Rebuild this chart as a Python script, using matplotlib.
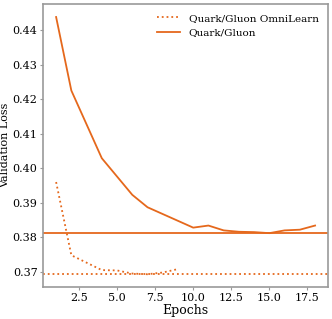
import matplotlib.pyplot as plt

# validation loss per epoch
epochs_omni = [1, 2, 4, 5, 6, 7, 8, 9]
loss_omni = [0.3960, 0.3748, 0.3705, 0.3704, 0.3695, 0.3693, 0.3698, 0.3708]

epochs_base = [1, 2, 4, 6, 7, 10, 11, 12, 13, 14, 15, 16, 17, 18]
loss_base = [0.4438, 0.4225, 0.4029, 0.3923, 0.3887, 0.3828, 0.3834, 0.3820,
             0.3816, 0.3815, 0.3812, 0.3820, 0.3822, 0.3834]

color = '#e5681c'

plt.rcParams['font.family'] = 'DejaVu Serif'
fig = plt.figure(figsize=(3.32, 3.19), dpi=100)
ax = fig.add_axes([0.13, 0.1, 0.858, 0.887])

ax.plot(epochs_omni, loss_omni, linestyle=':', color=color, lw=1.3, label='Quark/Gluon OmniLearn')
ax.plot(epochs_base, loss_base, linestyle='-', color=color, lw=1.3, label='Quark/Gluon')
ax.axhline(min(loss_omni), linestyle=':', color=color, lw=1.3)
ax.axhline(min(loss_base), linestyle='-', color=color, lw=1.3)

ax.set_xlabel('Epochs', fontsize=9, labelpad=1)
ax.set_ylabel('Validation Loss', fontsize=8, labelpad=2)
ax.tick_params(labelsize=8, length=2, color='#999999', pad=2)
for s in ax.spines.values():
    s.set_color('#999999')
    s.set_linewidth(1.2)
ax.legend(frameon=False, fontsize=7.5, loc='upper right', handlelength=2.2)

plt.savefig('out.png', dpi=100)
